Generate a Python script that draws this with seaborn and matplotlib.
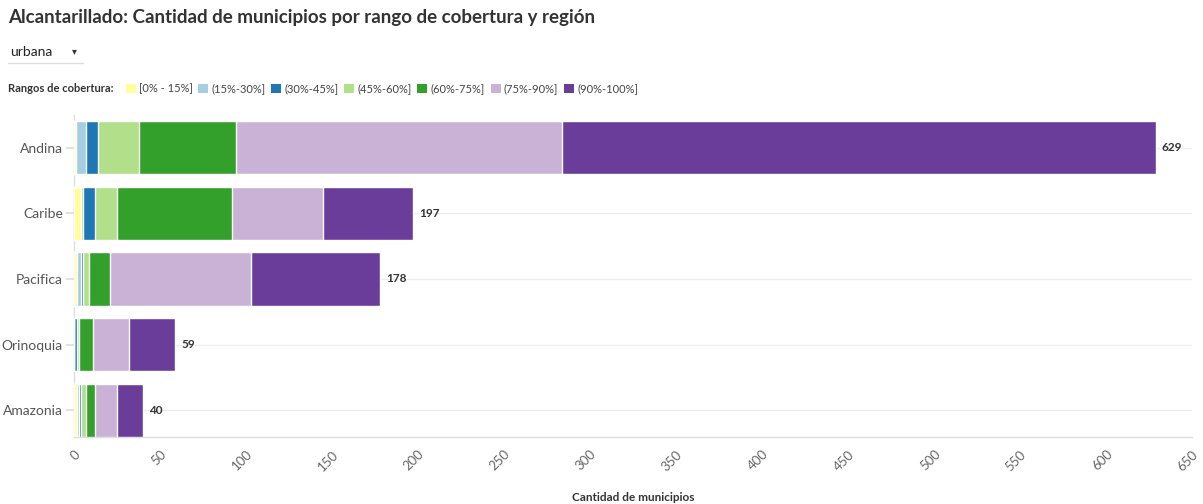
import numpy as np
import pandas as pd
import matplotlib.pyplot as plt
import seaborn as sns
from matplotlib.patches import Patch

regiones = ['Andina', 'Caribe', 'Pacifica', 'Orinoquia', 'Amazonia']
rangos = ['[0% - 15%]', '(15%-30%]', '(30%-45%]', '(45%-60%]', '(60%-75%]', '(75%-90%]', '(90%-100%]']
colores = ['#ffff99', '#a6cee3', '#1f78b4', '#b2df8a', '#33a02c', '#cab2d6', '#6a3d9a']

# municipios por rango (una lista por rango, en el orden de regiones)
r_0_15 = [1, 4, 2, 0, 2]
r_15_30 = [6, 1, 2, 0, 1]
r_30_45 = [7, 7, 1, 2, 1]
r_45_60 = [24, 13, 4, 1, 3]
r_60_75 = [56, 67, 12, 8, 5]
r_75_90 = [190, 53, 82, 21, 13]
r_90_100 = [345, 52, 75, 27, 15]

valores = np.array([r_0_15, r_15_30, r_30_45, r_45_60, r_60_75, r_75_90, r_90_100])
acumulado = valores.cumsum(axis=0)
totales = acumulado[-1]

sns.set_theme(style='white')
plt.rcParams['font.family'] = ['Lato', 'DejaVu Sans']

fig = plt.figure(figsize=(12.03, 5.04), dpi=100)
ax = fig.add_axes([74 / 1203, 1 - 437 / 504, (1192 - 74) / 1203, (437 - 115) / 504])

# barras apiladas: se dibuja del acumulado mayor al menor
for i in range(len(rangos) - 1, -1, -1):
    df = pd.DataFrame({'region': regiones, 'valor': acumulado[i]})
    sns.barplot(data=df, x='valor', y='region', orient='h', color=colores[i],
                width=0.81, edgecolor='white', linewidth=1, saturation=1, ax=ax, zorder=3)

for j, t in enumerate(totales):
    ax.text(t + 3.5, j, str(t), va='center', ha='left', fontsize=8.5,
            fontweight='bold', color='#333333')

ax.set_xlim(0, 650)
ax.set_ylim(4.41, -0.5)
ax.set_xticks(np.arange(0, 651, 50))
ax.set_xticklabels([str(v) for v in range(0, 651, 50)], rotation=45, ha='right',
                   rotation_mode='anchor', fontsize=9.5, color='#666666')
ax.tick_params(axis='y', labelsize=10, labelcolor='#555555', length=6, color='#dddddd', pad=2, left=True)
ax.tick_params(axis='x', length=0, pad=8)
for yy in range(len(regiones)):
    ax.axhline(yy, color='#eeeeee', linewidth=1, zorder=0)
for s in ['top', 'right']:
    ax.spines[s].set_visible(False)
for s in ['left', 'bottom']:
    ax.spines[s].set_color('#dddddd')
    ax.spines[s].set_linewidth(1)
ax.set_ylabel('')
ax.set_xlabel('Cantidad de municipios', fontsize=8.5, fontweight='bold', color='#333333', labelpad=14)

fig.text(8 / 1203, 1 - 17 / 504, 'Alcantarillado: Cantidad de municipios por rango de cobertura y región',
         fontsize=13.5, fontweight='bold', color='#333333', va='center', ha='left')
fig.text(10 / 1203, 1 - 52 / 504, 'urbana', fontsize=10, color='#222222', va='center', ha='left')
fig.text(72 / 1203, 1 - 51 / 504, '▾', fontsize=7, color='#333333', va='center', ha='left',
         family=['DejaVu Sans'])
fig.add_artist(plt.Line2D([8 / 1203, 83 / 1203], [1 - 63 / 504, 1 - 63 / 504], color='#dddddd', linewidth=1))

fig.text(8 / 1203, 1 - 89 / 504, 'Rangos de cobertura:', fontsize=8, fontweight='bold',
         color='#333333', va='center', ha='left')
handles = [Patch(facecolor=c, edgecolor='none') for c in colores]
fig.legend(handles, rangos, loc='center left', bbox_to_anchor=(120 / 1203, 1 - 89 / 504), ncol=7,
           frameon=False, fontsize=8, handlelength=0.9, handleheight=0.9, handletextpad=0.3,
           columnspacing=0.5, labelcolor='#444444', borderpad=0)

fig.savefig('out.png', dpi=100)
